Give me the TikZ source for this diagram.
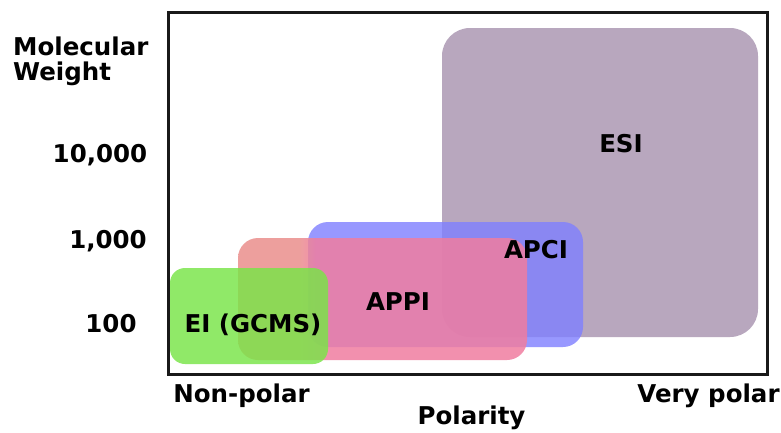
\documentclass[tikz,border=0pt]{standalone}
\usepackage{fontspec}
\setmainfont{DejaVu Sans}
\definecolor{esicol}{RGB}{184,167,190}
\definecolor{apcicol}{RGB}{127,127,255}
\definecolor{appisalmon}{RGB}{235,143,141}
\definecolor{appipink}{RGB}{240,125,160}
\definecolor{eicol}{RGB}{120,229,71}
\definecolor{framecol}{RGB}{25,25,25}
\pgfdeclarehorizontalshading{appishade}{100bp}{color(0bp)=(appisalmon); color(35.5bp)=(appisalmon); color(38.5bp)=(appipink); color(100bp)=(appipink)}
\begin{document}
\begin{tikzpicture}[x=1pt,y=-1pt,
  lbl/.style={font=\fontsize{24.5}{29}\selectfont\bfseries, inner sep=0pt, anchor=base, text=black},
  zone/.style={draw=none}]
\useasboundingbox (0,0) rectangle (781,432);
\fill[white] (0,0) rectangle (781,432);
% zones
\fill[zone, esicol, rounded corners=28pt] (442,28) rectangle (758,337);
\fill[zone, apcicol, fill opacity=0.8, rounded corners=20pt] (308,222) rectangle (583,347);
\shade[zone, shading=appishade, fill opacity=0.85, rounded corners=20pt] (238,238) rectangle (527,360);
\fill[zone, eicol, fill opacity=0.82, rounded corners=15pt] (170,268) rectangle (328,364);
% frame
\draw[framecol, line width=3pt] (168,12) rectangle (767,374);
% zone labels
\node[lbl] (esi) at (621,152) {ESI};
\node[lbl] (apci) at (536,258) {APCI};
\node[lbl] (appi) at (398,310) {APPI};
\node[lbl] (ei) at (253,332) {EI (GCMS)};
% axis labels
\node[lbl, anchor=base west] (mw1) at (13,55) {Molecular};
\node[lbl, anchor=base west] (mw2) at (13,80) {Weight};
\node[lbl] (t10000) at (100,162) {10,000};
\node[lbl] (t1000) at (108,248) {1,000};
\node[lbl] (t100) at (111,332) {100};
\node[lbl] (nonpolar) at (241.5,402) {Non-polar};
\node[lbl] (verypolar) at (708.5,402) {Very polar};
\node[lbl] (polarity) at (471.5,424) {Polarity};
\end{tikzpicture}
\end{document}
